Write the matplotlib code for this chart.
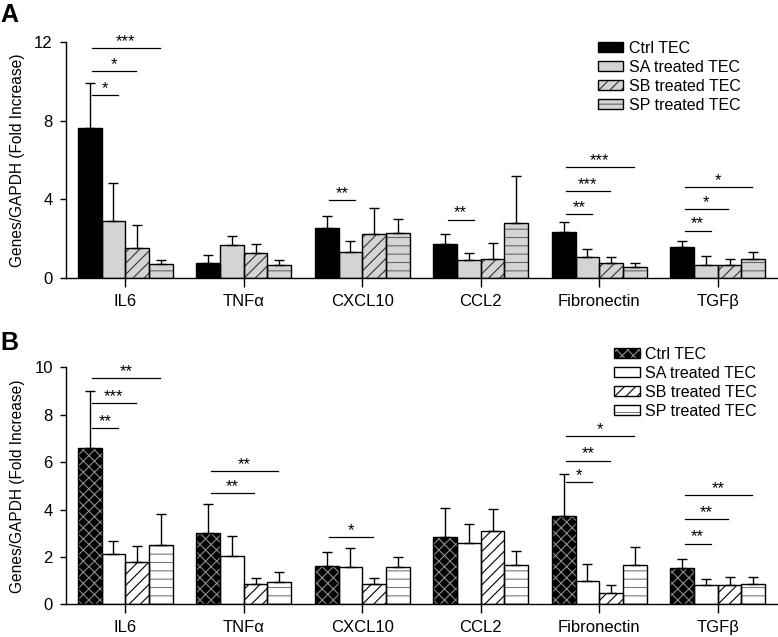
import matplotlib
matplotlib.use("Agg")
import matplotlib.pyplot as plt
import numpy as np

plt.rcParams['font.family'] = ['Liberation Sans', 'DejaVu Sans']
plt.rcParams['hatch.linewidth'] = 0.8

# categories
genes = ['IL6', 'TNFα', 'CXCL10', 'CCL2', 'Fibronectin', 'TGFβ']
groups = ['Ctrl TEC', 'SA treated TEC', 'SB treated TEC', 'SP treated TEC']

# panel A: means and SD (upper error only)
a_ctrl = [7.63, 0.78, 2.57, 1.76, 2.33, 1.61]
a_ctrl_sd = [2.30, 0.39, 0.59, 0.47, 0.51, 0.30]
a_sa = [2.92, 1.70, 1.34, 0.93, 1.10, 0.66]
a_sa_sd = [1.93, 0.44, 0.54, 0.34, 0.41, 0.48]
a_sb = [1.52, 1.29, 2.27, 0.98, 0.78, 0.69]
a_sb_sd = [1.17, 0.45, 1.31, 0.79, 0.28, 0.29]
a_sp = [0.72, 0.70, 2.30, 2.81, 0.58, 0.98]
a_sp_sd = [0.21, 0.21, 0.71, 2.38, 0.18, 0.34]

# panel B
b_ctrl = [6.58, 2.99, 1.62, 2.83, 3.74, 1.53]
b_ctrl_sd = [2.41, 1.23, 0.57, 1.23, 1.76, 0.38]
b_sa = [2.14, 2.04, 1.56, 2.59, 0.98, 0.83]
b_sa_sd = [0.55, 0.86, 0.83, 0.81, 0.71, 0.22]
b_sb = [1.77, 0.84, 0.84, 3.09, 0.49, 0.83]
b_sb_sd = [0.68, 0.26, 0.28, 0.94, 0.34, 0.32]
b_sp = [2.49, 0.94, 1.57, 1.67, 1.65, 0.86]
b_sp_sd = [1.33, 0.43, 0.43, 0.59, 0.76, 0.29]

# significance vs Ctrl: (gene index, compared group index, bracket level, stars)
a_sig = [(0, 1, 9.29, '*'), (0, 2, 10.5, '*'), (0, 3, 11.66, '***'),
         (2, 1, 3.97, '**'), (3, 1, 2.98, '**'),
         (4, 1, 3.24, '**'), (4, 2, 4.41, '***'), (4, 3, 5.63, '***'),
         (5, 1, 2.42, '**'), (5, 2, 3.52, '*'), (5, 3, 4.61, '*')]
b_sig = [(0, 1, 7.45, '**'), (0, 2, 8.48, '***'), (0, 3, 9.55, '**'),
         (1, 2, 4.69, '**'), (1, 3, 5.62, '**'), (2, 2, 2.82, '*'),
         (4, 1, 5.16, '*'), (4, 2, 6.06, '**'), (4, 3, 7.09, '*'),
         (5, 1, 2.56, '**'), (5, 2, 3.59, '**'), (5, 3, 4.61, '**')]

# (facecolor, hatch, hatch colour) per group
a_styles = [('black', None, 'black'), ('#d4d4d4', None, 'black'),
            ('#d4d4d4', '///', '#333333'), ('#d4d4d4', '--', '#666666')]
b_styles = [('black', 'xxx', '#8c8c8c'), ('white', None, 'black'),
            ('white', '///', 'black'), ('white', '--', '#7a7a7a')]

width = 0.2
offsets = [-0.3, -0.1, 0.1, 0.3]
bracket_end = [None, -0.06, 0.09, 0.29]


def draw_panel(ax, means, sds, styles, sig, ymax, yticks, leg_anchor):
    x = np.arange(len(genes))
    handles = []
    for i in range(4):
        fc, hatch, hc = styles[i]
        pos = x + offsets[i]
        fill = ax.bar(pos, means[i], width, color=fc, edgecolor=hc, linewidth=0,
                      hatch=hatch, zorder=2)
        edge = ax.bar(pos, means[i], width, facecolor='none', edgecolor='black',
                      linewidth=1.0, zorder=2.5)
        ax.errorbar(pos, means[i], yerr=[np.zeros(len(genes)), sds[i]], fmt='none',
                    ecolor='black', elinewidth=1.0, capsize=3.8, capthick=1.0, zorder=3)
        handles.append((fill, edge))

    for g, j, lvl, stars in sig:
        x0 = g - 0.28
        x1 = g + bracket_end[j]
        ax.plot([x0, x1], [lvl, lvl], color='black', lw=0.9, zorder=3)
        ax.annotate(stars, ((x0 + x1) / 2, lvl), xytext=(0, 1.5), textcoords='offset points',
                    ha='center', va='baseline', fontsize=12)

    ax.set_xlim(-0.5, 5.5)
    ax.set_ylim(0, ymax)
    ax.set_yticks(yticks)
    ax.set_xticks(x)
    ax.set_xticklabels(genes)
    for s in ['top', 'right']:
        ax.spines[s].set_visible(False)
    for s in ['left', 'bottom']:
        ax.spines[s].set_linewidth(1.0)
    ax.tick_params(axis='x', length=6.5, width=1.0, labelsize=12, pad=5)
    ax.tick_params(axis='y', length=4.5, width=1.0, labelsize=12, pad=5)
    ax.set_ylabel('Genes/GAPDH (Fold Increase)', fontsize=11.2)
    ax.yaxis.set_label_coords(-0.058, 0.5)
    ax.legend(handles, groups, loc='upper left', bbox_to_anchor=leg_anchor,
              frameon=False, fontsize=11.5, handlelength=1.6, handleheight=0.6,
              handletextpad=0.35, labelspacing=0.25, borderpad=0, borderaxespad=0)


fig = plt.figure(figsize=(7.78, 6.37), dpi=100)
axA = fig.add_axes([0.0848, 0.5631, 0.9139, 0.3714])
axB = fig.add_axes([0.0848, 0.0513, 0.9139, 0.3721])

draw_panel(axA, [a_ctrl, a_sa, a_sb, a_sp], [a_ctrl_sd, a_sa_sd, a_sb_sd, a_sp_sd],
           a_styles, a_sig, 12, [0, 4, 8, 12], (0.748, 1.004))
draw_panel(axB, [b_ctrl, b_sa, b_sb, b_sp], [b_ctrl_sd, b_sa_sd, b_sb_sd, b_sp_sd],
           b_styles, b_sig, 10, [0, 2, 4, 6, 8, 10], (0.771, 1.087))

fig.text(0.001, 1 - 21.7 / 637, 'A', fontsize=18, fontweight='bold', va='baseline')
fig.text(0.001, 1 - 350 / 637, 'B', fontsize=18, fontweight='bold', va='baseline')

fig.savefig('out.png', dpi=100)
